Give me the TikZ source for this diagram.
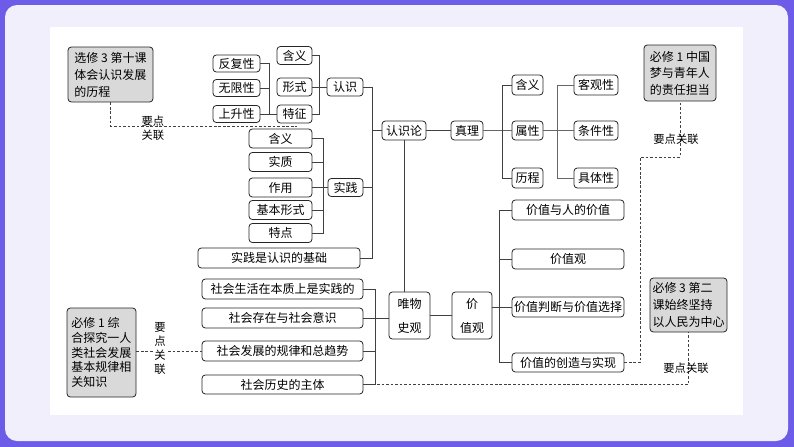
\documentclass[tikz,border=0pt]{standalone}
\usepackage{fontspec}
\setmainfont{Noto Sans CJK SC}
\usepackage{tikz}
\usepackage{xcolor}
\definecolor{bgpurple}{RGB}{108,92,231}
\definecolor{bglav}{RGB}{241,239,252}
\definecolor{boxgray}{RGB}{217,217,217}

\begin{document}
\begin{tikzpicture}[x=0.75pt,y=-0.75pt,
            box/.style={draw=black!85, line width=0.6pt, rounded corners=2.5pt, fill=white, inner sep=0pt,
                        font=\fontsize{9}{11}\selectfont},
            gbox/.style={box, fill=boxgray, align=left},
            sz/.style 2 args={minimum width=#1*0.75pt, minimum height=#2*0.75pt},
            link/.style={draw=black!75, line width=0.6pt, dash pattern=on 2pt off 1.4pt},
            tag/.style={inner sep=0pt, align=center, font=\fontsize{8.5}{10.5}\selectfont}]
        \useasboundingbox (0,0) rectangle (794,447);
        \fill[bgpurple] (0,0) rectangle (794,447);
        \fill[bglav, rounded corners=9pt] (5,5) rectangle (788,441);
        \fill[white] (50,27) rectangle (743,415);

        % upper left: cognition
        \node[gbox,sz={85}{55},font=\fontsize{9}{12.75}\selectfont] (gA) at (110.5,74.5) {选修 3 第十课\\体会认识发展\\的历程};
        \node[box,sz={47}{17}] (fu) at (236.5,63.5) {反复性};
        \node[box,sz={47}{17}] (wu) at (236.5,88) {无限性};
        \node[box,sz={47}{17}] (sh) at (236.5,114) {上升性};
        \node[box,sz={35}{18}] (hy1) at (294.5,55.5) {含义};
        \node[box,sz={35}{18}] (xs) at (294.5,87) {形式};
        \node[box,sz={35}{18}] (tz) at (294.5,114) {特征};
        \node[box,sz={36}{18}] (rs) at (345,87) {认识};

        \draw[black!75] (fu.east) -- ++(9,0) |- (sh.east);
        \draw[black!75] (wu.east) -- ++(9,0);
        \draw[black!75] (sh.east) -- (tz.west);
        \draw[black!75] (hy1.east) -- ++(7,0) |- (tz.east);
        \draw[black!75] (xs.east) -- (rs.west);

        % practice
        \node[box,sz={35}{18}] (sj) at (345.5,187.5) {实践};
        \node[box,sz={63}{19}] (sj1) at (280.5,138.5) {含义};
        \node[box,sz={63}{19}] (sj2) at (280.5,162) {实质};
        \node[box,sz={63}{19}] (sj3) at (280.5,187.5) {作用};
        \node[box,sz={63}{19}] (sj4) at (280.5,210) {基本形式};
        \node[box,sz={63}{19}] (sj5) at (280.5,233) {特点};
        \node[box,sz={162}{20}] (jc) at (279,258) {实践是认识的基础};

        \draw[black!75] (sj1.east) -- ++(11,0) |- (sj5.east);
        \draw[black!75] (sj2.east) -- ++(11,0);
        \draw[black!75] (sj4.east) -- ++(11,0);
        \draw[black!75] (sj3.east) -- (sj.west);

        % epistemology and truth
        \node[box,sz={44}{19}] (rsl) at (404,130.5) {认识论};
        \node[box,sz={32}{19}] (zl) at (467,130.5) {真理};
        \node[box,sz={31}{20}] (hy2) at (527.5,85) {含义};
        \node[box,sz={31}{19}] (sx) at (527.5,130.5) {属性};
        \node[box,sz={31}{20}] (lc) at (527.5,178) {历程};
        \node[box,sz={44}{20}] (kg) at (596,85) {客观性};
        \node[box,sz={44}{19}] (tj) at (596,130.5) {条件性};
        \node[box,sz={44}{20}] (jt) at (596,178) {具体性};

        \draw[black!75] (rs.east) -- ++(9,0) |- (jc.east);
        \draw[black!75] (sj.east) -- ++(9,0);
        \draw[black!75] (rsl.west) -- ++(-10,0);
        \draw[black!75] (rsl) -- (zl);
        \draw[black!60] (zl.east) -- (sx.west);
        \draw[black!75] (hy2.west) -- ++(-9,0) |- (lc.west);
        \draw[black!60] (sx.east) -- (tj.west);
        \draw[black!60] (kg.west) -- ++(-16,0) |- (jt.west);

        % historical materialism and values
        \node[box,sz={41}{47},font=\fontsize{9}{18}\selectfont,align=center] (ws) at (409.5,315.5) {唯物\\史观};
        \node[box,sz={40}{47},font=\fontsize{9}{18}\selectfont,align=center] (jz) at (472,315.5) {价\\值观};
        \node[box,sz={112}{20}] (v1) at (568,210) {价值与人的价值};
        \node[box,sz={112}{20}] (v2) at (568,259) {价值观};
        \node[box,sz={112}{20}] (v3) at (568,307) {价值判断与价值选择};
        \node[box,sz={112}{19}] (v4) at (568,362.5) {价值的创造与实现};
        \node[box,sz={161}{20}] (s1) at (282.5,289) {社会生活在本质上是实践的};
        \node[box,sz={161}{20}] (s2) at (282.5,318) {社会存在与社会意识};
        \node[box,sz={161}{20}] (s3) at (282.5,351) {社会发展的规律和总趋势};
        \node[box,sz={161}{19}] (s4) at (282.5,384.5) {社会历史的主体};

        \draw[black!75] (rsl.south) -- (rsl.south |- ws.north);
        \draw[black!75] (ws) -- (jz);
        \draw[black!75] (v1.west) -- ++(-12,0) |- (v4.west);
        \draw[black!75] (v2.west) -- ++(-12,0);
        \draw[black!75] (v3.west) -- (v3.west -| jz.east);
        \draw[black!75] (s1.east) -- ++(12,0) |- (s4.east);
        \draw[black!75] (s3.east) -- ++(12,0);
        \draw[black!75] (s2.east) -- (s2.east -| ws.west);

        % links to other modules
        \node[gbox,sz={72}{56},font=\fontsize{9}{12.4}\selectfont] (gB) at (680,73) {必修 1 中国\\梦与青年人\\的责任担当};
        \node[gbox,sz={77}{54},font=\fontsize{9}{12.75}\selectfont] (gC) at (688.5,305) {必修 3 第二\\课始终坚持\\以人民为中心};
        \node[gbox,sz={69}{89},font=\fontsize{9}{11}\selectfont] (gD) at (101.5,352.5) {必修 1 综\\合探究一人\\类社会发展\\基本规律相\\关知识};

        \coordinate (tA) at (297,126);
        \coordinate (tB) at (680,157);
        \draw[link] (gA.south) |- (tA);
        \draw[link] (gD.east |- s3) -- (s3.west);
        \draw[link] (s4.east) -| (gC.south);
        \draw[link] (v4.east) -- ++(16,0) |- (tB) -- (gB.south);

        \node[tag] (kA) at (153,128) {要点\\关联};
        \node[tag,fill=white,font=\fontsize{8.5}{10.5}\selectfont] (kD) at (160,348) {要\\点\\关\\联};
        \node[tag] (kC) at (686,368) {要点关联};
        \node[tag] (kB) at (676,139) {要点关联};
    \end{tikzpicture}
\end{document}
